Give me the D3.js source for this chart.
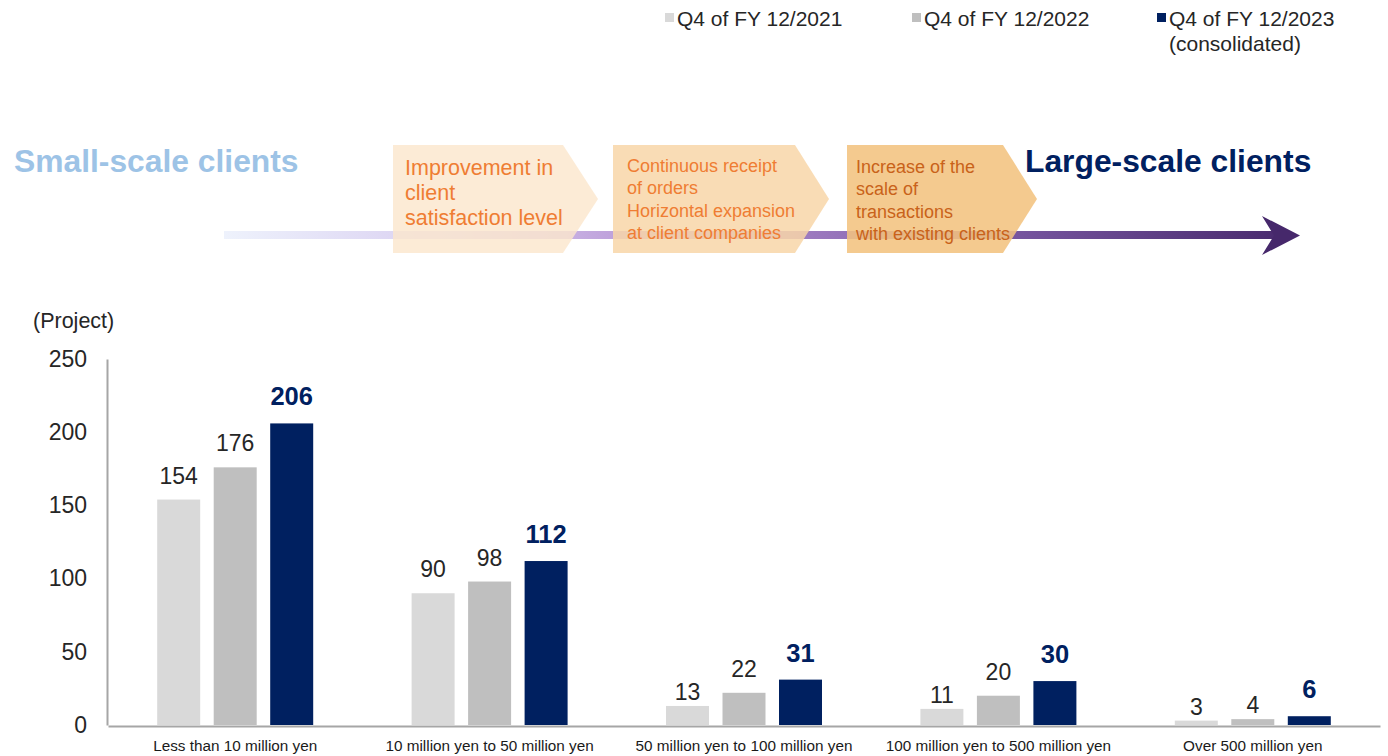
<!DOCTYPE html>
<html>
<head>
<meta charset="utf-8">
<script src="https://cdn.jsdelivr.net/npm/d3@7/dist/d3.min.js"></script>
<style>
  html, body { margin: 0; padding: 0; background: #ffffff; }
  svg { display: block; font-family: "Liberation Sans", Arial, sans-serif; }
</style>
</head>
<body>
<svg id="chart" width="1388" height="756"></svg>
<script>
// Project counts by order size, year-end comparison
const categories = [
  "Less than 10 million yen",
  "10 million yen to 50 million yen",
  "50 million yen to 100 million yen",
  "100 million yen to 500 million yen",
  "Over 500 million yen"
];
const seriesNames = ["Q4 of FY 12/2021", "Q4 of FY 12/2022", "Q4 of FY 12/2023"];
const values2021 = [154, 90, 13, 11, 3];
const values2022 = [176, 98, 22, 20, 4];
const values2023 = [206, 112, 31, 30, 6];
const yTicks = [0, 50, 100, 150, 200, 250];

// Growth path steps shown along the arrow
const stepTexts = [
  ["Improvement in", "client", "satisfaction level"],
  ["Continuous receipt", "of orders", "Horizontal expansion", "at client companies"],
  ["Increase of the", "scale of", "transactions", "with existing clients"]
];

const seriesValues = [values2021, values2022, values2023];
const colors = ["#d9d9d9", "#bfbfbf", "#002060"];

const svg = d3.select("#chart");

// ---------- Legend ----------
const legendX = [665, 912, 1157];
const legend = svg.append("g");
seriesNames.forEach((name, i) => {
  legend.append("rect")
    .attr("x", legendX[i]).attr("y", 13)
    .attr("width", 9).attr("height", 9)
    .attr("fill", colors[i]);
  legend.append("text")
    .attr("x", legendX[i] + 12).attr("y", 26)
    .attr("font-size", 21).attr("fill", "#262626")
    .text(name);
});
legend.append("text")
  .attr("x", legendX[2] + 12).attr("y", 51)
  .attr("font-size", 21).attr("fill", "#262626")
  .text("(consolidated)");

// ---------- Growth arrow ----------
const defs = svg.append("defs");
const grad = defs.append("linearGradient")
  .attr("id", "arrowGrad")
  .attr("gradientUnits", "userSpaceOnUse")
  .attr("x1", 224).attr("x2", 1300).attr("y1", 0).attr("y2", 0);
grad.append("stop").attr("offset", 0).attr("stop-color", "#eef2fc");
grad.append("stop").attr("offset", 0.22).attr("stop-color", "#d8cdf0");
grad.append("stop").attr("offset", 0.4).attr("stop-color", "#b896d6");
grad.append("stop").attr("offset", 0.7).attr("stop-color", "#7d5ba6");
grad.append("stop").attr("offset", 1).attr("stop-color", "#46286b");

const arrow = svg.append("g");
arrow.append("rect")
  .attr("x", 224).attr("y", 231)
  .attr("width", 1054).attr("height", 8)
  .attr("fill", "url(#arrowGrad)");
arrow.append("path")
  .attr("d", "M1262,216 L1300,235.5 L1262,255 L1274,235.5 Z")
  .attr("fill", "#46286b");

// Chevron steps
const chevrons = [
  { x: 393, body: 170, tip: 35, fill: "#fbe6cd", opacity: 0.82, color: "#ef7d33", size: 21.5, base: 175, lh: 25, pad: 12 },
  { x: 613, body: 182, tip: 34, fill: "#f8d6a8", opacity: 0.85, color: "#ef7d33", size: 18, base: 172, lh: 22.3, pad: 14 },
  { x: 847, body: 156, tip: 34, fill: "#f2c37f", opacity: 0.88, color: "#c9621a", size: 18, base: 173, lh: 22.3, pad: 9 }
];
const chevTop = 145, chevBottom = 253, chevMid = (chevTop + chevBottom) / 2;
chevrons.forEach((c, i) => {
  const g = svg.append("g");
  const xr = c.x + c.body;
  g.append("path")
    .attr("d", `M${c.x},${chevTop} L${xr},${chevTop} L${xr + c.tip},${chevMid} L${xr},${chevBottom} L${c.x},${chevBottom} Z`)
    .attr("fill", c.fill)
    .attr("fill-opacity", c.opacity);
  stepTexts[i].forEach((line, j) => {
    g.append("text")
      .attr("x", c.x + c.pad)
      .attr("y", c.base + j * c.lh)
      .attr("font-size", c.size)
      .attr("fill", c.color)
      .text(line);
  });
});

// Scale captions
svg.append("text")
  .attr("x", 14).attr("y", 172)
  .attr("font-size", 31.8).attr("font-weight", "bold")
  .attr("fill", "#9dc3e6")
  .text("Small-scale clients");
svg.append("text")
  .attr("x", 1025).attr("y", 172)
  .attr("font-size", 31.8).attr("font-weight", "bold")
  .attr("fill", "#002060")
  .text("Large-scale clients");

// ---------- Bar chart ----------
const plot = { left: 108, right: 1380, top: 359, bottom: 725 };

const y = d3.scaleLinear().domain([0, 250]).range([plot.bottom, plot.top]);
const x0 = d3.scaleBand().domain(categories).range([plot.left, plot.right]).padding(0);
const innerSpan = 156;
const x1 = d3.scaleBand()
  .domain(seriesNames)
  .range([(x0.bandwidth() - innerSpan) / 2, (x0.bandwidth() + innerSpan) / 2])
  .paddingInner(0.239)
  .paddingOuter(0);

// Y axis
const yAxis = d3.axisLeft(y).tickValues(yTicks).tickSize(0).tickPadding(20);
const yG = svg.append("g")
  .attr("transform", `translate(${plot.left - 1},0)`)
  .call(yAxis);
yG.select(".domain").attr("stroke", "#a6a6a6").attr("stroke-width", 2);
yG.selectAll("text")
  .attr("font-size", 23)
  .attr("fill", "#262626")
  .attr("font-family", "Liberation Sans, Arial, sans-serif");

svg.append("text")
  .attr("x", 33).attr("y", 328)
  .attr("font-size", 21.5).attr("fill", "#262626")
  .text("(Project)");

// Bars
const groups = svg.append("g")
  .selectAll("g")
  .data(categories)
  .join("g")
  .attr("transform", d => `translate(${x0(d)},0)`);

groups.each(function (cat, ci) {
  const g = d3.select(this);
  seriesNames.forEach((s, si) => {
    const v = seriesValues[si][ci];
    g.append("rect")
      .attr("x", x1(s))
      .attr("y", y(v))
      .attr("width", x1.bandwidth())
      .attr("height", y(0) - y(v))
      .attr("fill", colors[si]);
    const isLatest = si === 2;
    g.append("text")
      .attr("x", x1(s) + x1.bandwidth() / 2)
      .attr("y", y(v) - (isLatest ? 18 : (v < 20 ? 6 : 16)))
      .attr("text-anchor", "middle")
      .attr("font-size", isLatest ? 25.5 : 23)
      .attr("font-weight", isLatest ? "bold" : "normal")
      .attr("fill", isLatest ? "#002060" : "#262626")
      .text(v);
  });
});

// X axis baseline and category labels
const xAxis = d3.axisBottom(x0).tickSize(0).tickPadding(14);
const xG = svg.append("g")
  .attr("transform", `translate(0,${plot.bottom + 1})`)
  .call(xAxis);
xG.select(".domain").attr("stroke", "#a6a6a6").attr("stroke-width", 2);
xG.selectAll("text")
  .attr("font-size", 15.3)
  .attr("fill", "#1a1a1a")
  .attr("font-family", "Liberation Sans, Arial, sans-serif");
</script>
</body>
</html>
